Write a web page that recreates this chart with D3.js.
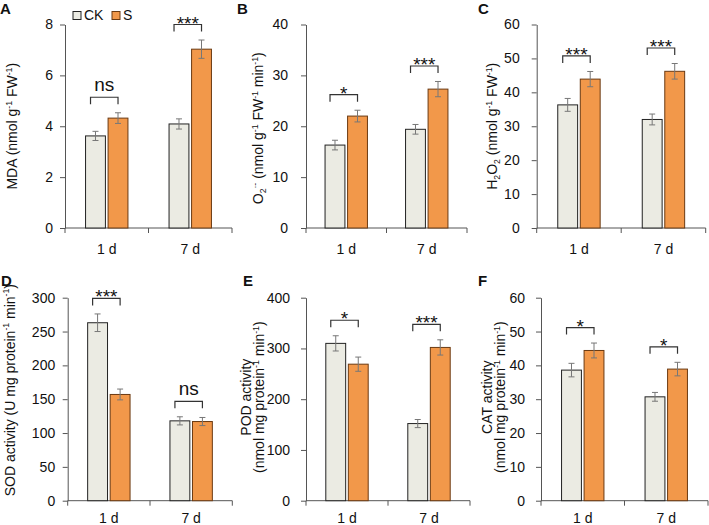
<!DOCTYPE html>
<html>
<head>
<meta charset="utf-8">
<script src="https://cdn.jsdelivr.net/npm/d3@7"></script>
<style>
body { margin: 0; background: #fff; }
text { font-family: "Liberation Sans", Arial, sans-serif; fill: #111; }
</style>
</head>
<body>
<script>
var days = ['1 d', '7 d'];
var groups = ['CK', 'S'];

// A - MDA
var mdaCK = [3.62, 4.09], mdaS = [4.32, 7.03];
var mdaCKErr = [0.18, 0.20], mdaSErr = [0.21, 0.36];
var mdaSig = ['ns', '***'];
var mdaTicks = [0, 2, 4, 6, 8];

// B - O2.-
var o2CK = [16.3, 19.4], o2S = [22.0, 27.3];
var o2CKErr = [0.95, 0.95], o2SErr = [1.15, 1.5];
var o2Sig = ['*', '***'];
var o2Ticks = [0, 10, 20, 30, 40];

// C - H2O2
var h2o2CK = [36.3, 32.0], h2o2S = [43.9, 46.2];
var h2o2CKErr = [1.9, 1.6], h2o2SErr = [2.25, 2.3];
var h2o2Sig = ['***', '***'];
var h2o2Ticks = [0, 10, 20, 30, 40, 50, 60];

// D - SOD
var sodCK = [263, 118], sodS = [157, 117];
var sodCKErr = [13, 6], sodSErr = [8, 6];
var sodSig = ['***', 'ns'];
var sodTicks = [0, 50, 100, 150, 200, 250, 300];

// E - POD
var podCK = [310, 152], podS = [269, 302];
var podCKErr = [15, 8], podSErr = [14, 15];
var podSig = ['*', '***'];
var podTicks = [0, 100, 200, 300, 400];

// F - CAT
var catCK = [38.6, 30.7], catS = [44.4, 38.9];
var catCKErr = [2.0, 1.3], catSErr = [2.2, 2.0];
var catSig = ['*', '*'];
var catTicks = [0, 10, 20, 30, 40, 50, 60];

var panels = [
  {id: 'A', label: ['MDA (nmol g^{-1} FW^{-1})'], ck: mdaCK, s: mdaS, ckErr: mdaCKErr, sErr: mdaSErr, sig: mdaSig, ticks: mdaTicks},
  {id: 'B', label: ['O_{2}^{·-} (nmol g^{-1} FW^{-1} min^{-1})'], ck: o2CK, s: o2S, ckErr: o2CKErr, sErr: o2SErr, sig: o2Sig, ticks: o2Ticks},
  {id: 'C', label: ['H_{2}O_{2} (nmol g^{-1} FW^{-1})'], ck: h2o2CK, s: h2o2S, ckErr: h2o2CKErr, sErr: h2o2SErr, sig: h2o2Sig, ticks: h2o2Ticks},
  {id: 'D', label: ['SOD activity (U mg protein^{-1} min^{-1})'], ck: sodCK, s: sodS, ckErr: sodCKErr, sErr: sodSErr, sig: sodSig, ticks: sodTicks},
  {id: 'E', label: ['POD activity', '(nmol mg protein^{-1} min^{-1})'], ck: podCK, s: podS, ckErr: podCKErr, sErr: podSErr, sig: podSig, ticks: podTicks},
  {id: 'F', label: ['CAT activity', '(nmol mg protein^{-1} min^{-1})'], ck: catCK, s: catS, ckErr: catCKErr, sErr: catSErr, sig: catSig, ticks: catTicks}
];

// where each panel sits on the page (labX = baseline of last y-label line)
var frames = [
  {x0: 65, x1: 232, top: 24.5, bot: 228, pad: 7, labX: 17, labDy: 0, catY: 25.5, letX: 0, letY: 14},
  {x0: 306, x1: 467, top: 24.5, bot: 228, pad: 13, labX: 263, labDy: 2, catY: 25.5, letX: 237, letY: 14},
  {x0: 536.7, x1: 705.7, top: 24.5, bot: 228, pad: 12, labX: 497, labDy: 0, catY: 25.5, letX: 478, letY: 14},
  {x0: 67.7, x1: 232.3, top: 297.7, bot: 500.7, pad: 7.5, labX: 14.5, labDy: -9, catY: 22.5, letX: 1, letY: 286},
  {x0: 306, x1: 470, top: 297.7, bot: 500.7, pad: 11, labX: 264, labDy: -2, catY: 22.5, letX: 243, letY: 286},
  {x0: 541, x1: 708, top: 297.7, bot: 500.7, pad: 11, labX: 505, labDy: -2, catY: 22.5, letX: 478, letY: 286}
];

var width = 709, height = 525;
var colors = {CK: '#ebebe3', S: '#f2984a'};
var strokes = {CK: '#222', S: '#6b3a12'};
var barW = 18.7, barGap = 5;

var svg = d3.select('body')
  .append('svg')
  .attr('width', width)
  .attr('height', height)

// writes "a^{sup}_{sub}" markup into tspans
function richText(sel, str, size) {
  var parts = str.split(/(\^\{[^}]*\}|_\{[^}]*\})/).filter(d => d.length)
  var shift = 0
  parts.forEach(p => {
    var t = sel.append('tspan')
    var dy = 0, fs = size, txt = p
    if (p[0] == '^') { txt = p.slice(2, -1); fs = size * 0.62; dy = -size * 0.38 }
    else if (p[0] == '_') { txt = p.slice(2, -1); fs = size * 0.62; dy = size * 0.22 }
    t.attr('dy', dy - shift).attr('font-size', fs).text(txt)
    shift = dy
  })
}

panels.forEach((p, i) => {
  var f = frames[i]
  var g = svg.append('g')

  var y = d3.scaleLinear()
    .domain([0, d3.max(p.ticks)])
    .range([f.bot, f.top])

  var x = d3.scaleBand()
    .domain(days)
    .range([f.x0, f.x1])

  var xg = d3.scaleBand()
    .domain(groups)
    .range([-(barW + barGap / 2), barW + barGap / 2])
    .paddingInner(barGap / (barW * 2 + barGap))

  // y axis
  var yAxis = d3.axisLeft(y).tickValues(p.ticks).tickSize(5).tickSizeOuter(0).tickPadding(f.pad)
  var ya = g.append('g')
    .attr('transform', 'translate(' + f.x0 + ',0)')
    .call(yAxis)
  ya.select('.domain').attr('stroke', '#555')
  ya.selectAll('.tick line').attr('stroke', '#555')
  ya.selectAll('.tick text')
    .attr('font-size', 14)
    .attr('font-family', '"Liberation Sans", Arial, sans-serif')
    .attr('fill', '#111')

  // x axis: ticks at the band edges
  var xa = g.append('g').attr('transform', 'translate(0,' + f.bot + ')')
  xa.append('line')
    .attr('x1', f.x0).attr('x2', f.x1)
    .attr('stroke', '#555')
  var edges = days.map(d => x(d)).concat([f.x1])
  xa.selectAll('line.tk')
    .data(edges).enter()
    .append('line')
    .attr('class', 'tk')
    .attr('x1', d => d).attr('x2', d => d)
    .attr('y1', 0).attr('y2', 5)
    .attr('stroke', '#555')
  xa.selectAll('text')
    .data(days).enter()
    .append('text')
    .attr('x', d => x(d) + x.bandwidth() / 2)
    .attr('y', f.catY)
    .attr('text-anchor', 'middle')
    .attr('font-size', 14)
    .text(d => d)

  // bars + error bars
  var rows = []
  days.forEach((d, j) => {
    rows.push({day: d, grp: 'CK', v: p.ck[j], e: p.ckErr[j]})
    rows.push({day: d, grp: 'S', v: p.s[j], e: p.sErr[j]})
  })
  var cx = r => x(r.day) + x.bandwidth() / 2 + xg(r.grp)

  g.selectAll('rect.bar')
    .data(rows).enter()
    .append('rect')
    .attr('class', 'bar')
    .attr('x', cx)
    .attr('width', xg.bandwidth())
    .attr('y', r => y(r.v))
    .attr('height', r => y(0) - y(r.v))
    .attr('fill', r => colors[r.grp])
    .attr('stroke', r => strokes[r.grp])
    .attr('stroke-width', 1)

  var eb = g.selectAll('g.err')
    .data(rows).enter()
    .append('g')
    .attr('stroke', '#777')
    .attr('stroke-width', 1)
  eb.append('line')
    .attr('x1', r => cx(r) + xg.bandwidth() / 2).attr('x2', r => cx(r) + xg.bandwidth() / 2)
    .attr('y1', r => y(r.v + r.e)).attr('y2', r => y(r.v - r.e))
  eb.append('line')
    .attr('x1', r => cx(r) + xg.bandwidth() / 2 - 3).attr('x2', r => cx(r) + xg.bandwidth() / 2 + 3)
    .attr('y1', r => y(r.v + r.e)).attr('y2', r => y(r.v + r.e))
  eb.append('line')
    .attr('x1', r => cx(r) + xg.bandwidth() / 2 - 3).attr('x2', r => cx(r) + xg.bandwidth() / 2 + 3)
    .attr('y1', r => y(r.v - r.e)).attr('y2', r => y(r.v - r.e))

  // significance brackets
  days.forEach((d, j) => {
    var top = y(Math.max(p.ck[j] + p.ckErr[j], p.s[j] + p.sErr[j])) - 15.5
    var c = x(d) + x.bandwidth() / 2
    var xl = c + xg('CK') + xg.bandwidth() * 0.25
    var xr = c + xg('S') + xg.bandwidth() * 0.5
    g.append('path')
      .attr('d', 'M' + xl + ',' + (top + 7) + 'V' + top + 'H' + xr + 'V' + (top + 7))
      .attr('fill', 'none')
      .attr('stroke', '#333')
      .attr('stroke-width', 1.2)
    var ns = p.sig[j] == 'ns'
    g.append('text')
      .attr('x', (xl + xr) / 2)
      .attr('y', ns ? top - 6 : top + 5)
      .attr('text-anchor', 'middle')
      .attr('font-size', 19)
      .text(p.sig[j])
  })

  // y label
  var cy = (f.top + f.bot) / 2 + f.labDy
  var lab = g.append('text')
    .attr('transform', 'translate(' + f.labX + ',' + cy + ') rotate(-90)')
    .attr('text-anchor', 'middle')
    .attr('font-size', 14)
  var n = p.label.length
  p.label.forEach((l, k) => {
    var line = lab.append('tspan')
      .attr('x', 0)
      .attr('y', (k - (n - 1)) * 13.5)
    richText(line, l, 14)
  })

  // panel letter
  g.append('text')
    .attr('x', f.letX).attr('y', f.letY)
    .attr('font-size', 15)
    .attr('font-weight', 'bold')
    .text(p.id)
})

// legend
var leg = svg.append('g').attr('transform', 'translate(73,11)')
groups.forEach((k, i) => {
  var lx = i * 39
  leg.append('rect')
    .attr('x', lx).attr('y', 0.5)
    .attr('width', 8).attr('height', 8)
    .attr('fill', colors[k])
    .attr('stroke', strokes[k])
  leg.append('text')
    .attr('x', lx + 11).attr('y', 9)
    .attr('font-size', 14)
    .text(k)
})
</script>
</body>
</html>
